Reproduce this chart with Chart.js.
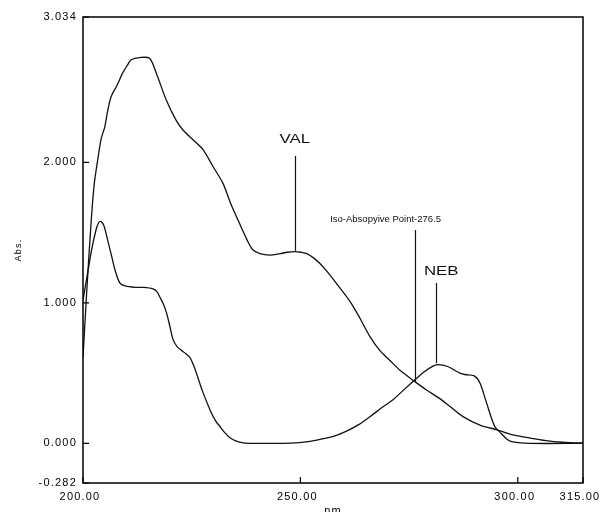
<!DOCTYPE html>
<html>
<head>
<meta charset="utf-8">
<script src="https://cdn.jsdelivr.net/npm/chart.js@4.4.0/dist/chart.umd.min.js"></script>
<style>
  html, body { margin: 0; padding: 0; background: #fff; }
</style>
</head>
<body>
<canvas id="spectrum_canvas" width="601" height="512"></canvas>
<script>
// VAL trace: wavelength (nm) and absorbance
const val_nm = [200, 200.8, 201.9, 202.6, 203.4, 204.2, 205, 205.7, 206.5, 207.7, 209.2, 210.2, 211.1, 213,
  215.3, 216.9, 219.2, 221.4, 223, 225.3, 227.6, 229.9, 232.2, 233.8, 235.2, 237.7, 239, 240.7,
  243, 245.3, 247, 248.7, 250.2, 251.5, 253, 254.5, 256.5, 258.5, 261.4, 263.7, 266, 268.3, 270.6, 272.9,
  276.1, 279, 282, 284.5, 287.4, 291.3, 295.4, 298.9, 302.8, 306.5, 310.3, 313, 315];
const val_abs = [0.61, 1.05, 1.59, 1.85, 2.02, 2.17, 2.25, 2.37, 2.47, 2.54, 2.64, 2.69, 2.73, 2.745,
  2.74, 2.63, 2.44, 2.30, 2.23, 2.16, 2.09, 1.97, 1.85, 1.72, 1.62, 1.45, 1.38, 1.35,
  1.34, 1.35, 1.36, 1.365, 1.36, 1.35, 1.32, 1.28, 1.21, 1.13, 1.01, 0.89, 0.76, 0.66, 0.59, 0.52,
  0.445, 0.38, 0.32, 0.26, 0.19, 0.13, 0.095, 0.06, 0.038, 0.02, 0.008, 0.004, 0.003];

// NEB trace
const neb_nm = [200, 201, 202, 203, 203.6, 204.1, 204.8, 205.8, 206.6, 207.4, 208.5, 209.7, 212, 213.9,
  216.1, 217, 217.7, 218.5, 219.2, 220, 220.7, 221.6, 222.7, 223.6, 224.6, 225.5, 226.4, 227.5, 229.2,
  230.5, 231.5, 232.5, 233.8, 235, 236.8, 240, 246, 249, 251.4, 254, 257.6, 260.5, 263.5, 266, 269,
  271.3, 273.4, 276.1, 278.5, 280.5, 281.6, 283, 284.4, 285.5, 286.7, 287.8, 290, 291.3, 292.8, 294.7,
  296.2, 297.5, 298.9, 302.8, 315];
const neb_abs = [1.02, 1.2, 1.38, 1.52, 1.57, 1.58, 1.55, 1.43, 1.33, 1.23, 1.14, 1.12, 1.11, 1.11,
  1.10, 1.08, 1.04, 0.99, 0.93, 0.83, 0.74, 0.69, 0.66, 0.64, 0.61, 0.55, 0.47, 0.37, 0.24,
  0.16, 0.12, 0.08, 0.04, 0.02, 0.004, 0, 0, 0.003, 0.01, 0.025, 0.05, 0.085, 0.135, 0.19, 0.26,
  0.31, 0.37, 0.445, 0.51, 0.55, 0.56, 0.555, 0.54, 0.52, 0.50, 0.49, 0.48, 0.43, 0.29, 0.12,
  0.07, 0.03, 0.01, 0, 0];

const x_ticks = [200, 250, 300, 315];
const y_ticks = [-0.282, 0, 1, 2, 3.034];

// callouts: text, marker line position (nm) and its extent (Abs), text anchor
const note_text = ['VAL', 'Iso-Absopyive Point-276.5', 'NEB'];
const note_nm = [248.7, 276.3, 281.3];
const note_top = [2.045, 1.518, 1.141];
const note_bottom = [1.37, 0.44, 0.57];
const note_text_nm = [248.7, 269.6, 282.4];
const note_text_abs = [2.16, 1.596, 1.221];

function to_points(xs, ys) {
  return xs.map((v, i) => ({x: v, y: ys[i]}));
}

const frame_plugin = {
  id: 'frame',
  beforeDraw(chart) {
    chart.ctx.letterSpacing = '1.2px';
  },
  afterDraw(chart) {
    const ctx = chart.ctx;
    const a = chart.chartArea;
    const x = chart.scales.x;
    const y = chart.scales.y;
    ctx.save();
    ctx.strokeStyle = '#000';
    ctx.lineWidth = 1.5;
    ctx.strokeRect(a.left, a.top, a.right - a.left, a.bottom - a.top);

    // inward tick marks
    ctx.lineWidth = 1.2;
    ctx.beginPath();
    for (const t of y.ticks) {
      const py = y.getPixelForValue(t.value);
      ctx.moveTo(a.left, py);
      ctx.lineTo(a.left + 6, py);
    }
    for (const t of x.ticks) {
      const px = x.getPixelForValue(t.value);
      ctx.moveTo(px, a.bottom);
      ctx.lineTo(px, a.bottom - 6);
    }
    ctx.stroke();

    // callouts
    ctx.strokeStyle = '#111';
    ctx.fillStyle = '#111';
    ctx.textAlign = 'center';
    ctx.textBaseline = 'middle';
    ctx.letterSpacing = '0px';
    for (let i = 0; i < note_text.length; i++) {
      const px = Math.round(x.getPixelForValue(note_nm[i])) + 0.5;
      ctx.beginPath();
      ctx.moveTo(px, y.getPixelForValue(note_top[i]));
      ctx.lineTo(px, y.getPixelForValue(note_bottom[i]));
      ctx.stroke();
      const big = note_text[i].length < 5;
      ctx.save();
      ctx.translate(x.getPixelForValue(note_text_nm[i]), y.getPixelForValue(note_text_abs[i]));
      if (big) {
        ctx.scale(1.35, 1);
        ctx.font = '12.5px "Liberation Sans", Arial, sans-serif';
      } else {
        ctx.font = '9.5px "Liberation Sans", Arial, sans-serif';
      }
      ctx.fillText(note_text[i], 0, 0);
      ctx.restore();
    }
    ctx.restore();
  }
};

const tick_font = {family: '"Liberation Sans", Arial, sans-serif', size: 11};

new Chart(document.getElementById('spectrum_canvas'), {
  type: 'line',
  data: {
    datasets: [{
      label: 'VAL',
      data: to_points(val_nm, val_abs),
      borderColor: '#111',
      borderWidth: 1.3,
      pointRadius: 0,
      tension: 0.3,
      fill: false
    }, {
      label: 'NEB',
      data: to_points(neb_nm, neb_abs),
      borderColor: '#111',
      borderWidth: 1.3,
      pointRadius: 0,
      tension: 0.3,
      fill: false
    }]
  },
  options: {
    responsive: false,
    animation: false,
    devicePixelRatio: 1,
    layout: {padding: {top: 17, right: 18, left: 0, bottom: 0}},
    plugins: {legend: {display: false}, tooltip: {enabled: false}},
    scales: {
      x: {
        type: 'linear',
        min: 200,
        max: 315,
        grid: {display: false, drawTicks: false},
        border: {display: false},
        afterBuildTicks: (scale) => { scale.ticks = x_ticks.map(v => ({value: v})); },
        afterFit: (scale) => { scale.height = 29; scale.paddingLeft = 0; scale.paddingRight = 0; },
        ticks: {
          color: '#000',
          font: tick_font,
          padding: 7,
          maxRotation: 0,
          autoSkip: false,
          labelOffset: -3,
          callback: (v) => Number(v).toFixed(2)
        },
        title: {display: true, text: 'nm', color: '#000', font: tick_font, padding: {top: 0, bottom: -6}}
      },
      y: {
        type: 'linear',
        min: -0.282,
        max: 3.034,
        grid: {display: false, drawTicks: false},
        border: {display: false},
        afterBuildTicks: (scale) => { scale.ticks = y_ticks.map(v => ({value: v})); },
        afterFit: (scale) => { scale.width = 83; },
        ticks: {
          color: '#000',
          font: tick_font,
          padding: 6,
          autoSkip: false,
          callback: (v) => Number(v).toFixed(3)
        },
        title: {
          display: true,
          text: 'Abs.',
          color: '#000',
          font: {family: '"Liberation Sans", Arial, sans-serif', size: 9},
          padding: {top: 13, bottom: 0}
        }
      }
    }
  },
  plugins: [frame_plugin]
});
</script>
</body>
</html>
